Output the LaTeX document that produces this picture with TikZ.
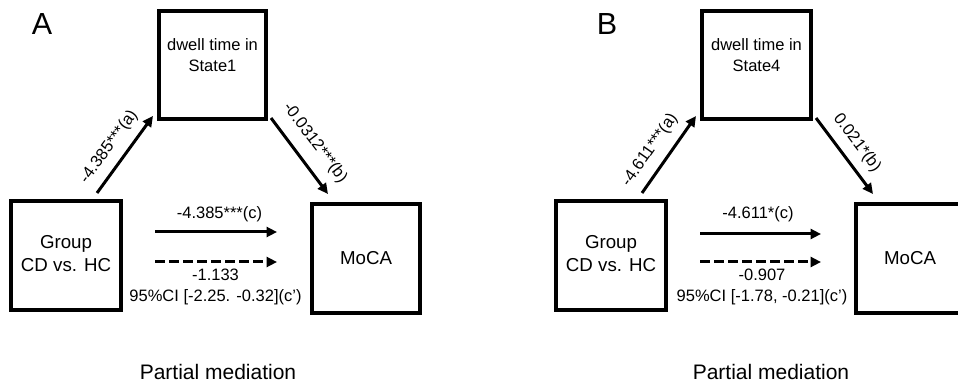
\documentclass[tikz,border=0pt]{standalone}
\usepackage{fontspec}
\setmainfont{Liberation Sans}
\usetikzlibrary{arrows.meta}
\begin{document}
\begin{tikzpicture}[x=1pt,y=-1pt,
  box/.style={draw, line width=4.3pt, inner sep=0pt},
  txt/.style={inner sep=0pt, align=center, font=\fontsize{16.5}{21}\selectfont},
  big/.style={inner sep=0pt, align=center, font=\fontsize{18.7}{23}\selectfont},
  arr/.style={line width=3pt, -{Triangle[length=10.5pt,width=10pt]}},
  darr/.style={arr, dash pattern=on 9.5pt off 4.5pt},
  panel/.style={inner sep=0pt, font=\fontsize{30.5}{30}\selectfont},
  foot/.style={inner sep=0pt, font=\fontsize{21}{24}\selectfont}]
\useasboundingbox (0,0) rectangle (958,387);
\clip (0,0) rectangle (958,387);
% ---------- Panel A ----------
\node[panel] (pA) at (42,24) {A};
\node[box, minimum width=107pt, minimum height=108pt] (medA) at (212.5,65) {};
\node[txt] (medAt) at (212.5,55.5) {dwell time in\\State1};
\node[box, minimum width=110pt, minimum height=109pt] (grpA) at (66,255.5) {};
\node[big] (grpAt) at (66,253.5) {Group\\CD vs. HC};
\node[box, minimum width=108pt, minimum height=109pt] (mocA) at (366,258.5) {};
\node[big] (mocAt) at (366,258) {MoCA};
\coordinate (aA1) at (97,193);  \coordinate (aA2) at (153,116);
\coordinate (bA1) at (271,118); \coordinate (bA2) at (328,194);
\coordinate (cA1) at (155,232); \coordinate (cA2) at (277,232);
\coordinate (dA1) at (155,262); \coordinate (dA2) at (277,262);
\draw[arr] (aA1) -- (aA2);
\draw[arr] (bA1) -- (bA2);
\draw[arr] (cA1) -- (cA2);
\draw[darr] (dA1) -- (dA2);
\node[txt, rotate=54] (laA) at (109,147) {-4.385***(a)};
\node[txt, rotate=-53] (lbA) at (315,143) {-0.0312***(b)};
\node[txt] (lcA) at (219.5,214) {-4.385***(c)};
\node[txt] (ldA) at (215.5,287) {-1.133\\95\%CI [-2.25. -0.32](c’)};
\node[foot] (fA) at (218,372) {Partial mediation};
% ---------- Panel B ----------
\node[panel] (pB) at (607,24) {B};
\node[box, minimum width=109pt, minimum height=108pt] (medB) at (756.5,65) {};
\node[txt] (medBt) at (756.5,55.5) {dwell time in\\State4};
\node[box, minimum width=110pt, minimum height=109pt] (grpB) at (611,255.5) {};
\node[big] (grpBt) at (611,253.5) {Group\\CD vs. HC};
\node[box, minimum width=108pt, minimum height=109pt] (mocB) at (910,258.5) {};
\node[big] (mocBt) at (910,258) {MoCA};
\coordinate (aB1) at (642,193); \coordinate (aB2) at (696,116);
\coordinate (bB1) at (816,118); \coordinate (bB2) at (873,194);
\coordinate (cB1) at (700,234); \coordinate (cB2) at (821,234);
\coordinate (dB1) at (700,262); \coordinate (dB2) at (821,262);
\draw[arr] (aB1) -- (aB2);
\draw[arr] (bB1) -- (bB2);
\draw[arr] (cB1) -- (cB2);
\draw[darr] (dB1) -- (dB2);
\node[txt, rotate=55] (laB) at (650,150) {-4.611***(a)};
\node[txt, rotate=-53] (lbB) at (857,143) {0.021*(b)};
\node[txt] (lcB) at (758,214) {-4.611*(c)};
\node[txt] (ldB) at (762,287) {-0.907\\95\%CI [-1.78, -0.21](c’)};
\node[foot] (fB) at (771,372) {Partial mediation};
\end{tikzpicture}
\end{document}
